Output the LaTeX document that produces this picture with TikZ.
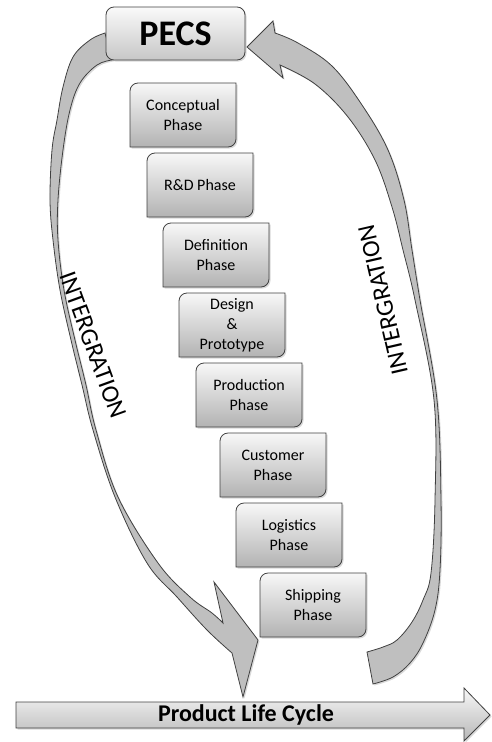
\documentclass[tikz,border=0pt]{standalone}
\usepackage{fontspec}
\setmainfont{Carlito}
\usetikzlibrary{shadows}

\tikzset{
  shade/.style={drop shadow={shadow xshift=1.5pt, shadow yshift=-1.5pt, opacity=0.3}},
  phasebox/.style={draw=black!75, line width=0.8pt, top color=black!3, bottom color=black!30, shade},
  phase/.style={align=center, inner sep=0pt, font=\fontsize{16}{20}\selectfont},
  band/.style={draw=black!75, line width=0.8pt, fill=black!25, shade},
  pecs/.style={draw=black!75, line width=0.8pt, rounded corners=8pt, top color=black!2, bottom color=black!22,
    minimum width=139pt, minimum height=53pt, inner sep=0pt, font=\bfseries\fontsize{36}{40}\selectfont, shade},
  plcarrow/.style={draw=black!75, line width=0.8pt, top color=black!3, bottom color=black!28, shade},
  integ/.style={font=\fontsize{25}{30}\selectfont, inner sep=0pt}
}

\begin{document}
\begin{tikzpicture}[x=1pt, y=-1pt]
\useasboundingbox (0,0) rectangle (491,742);

% left band, PECS down to the life cycle
\coordinate (lb1) at (214,582);
\coordinate (lnotch) at (223,623);
\coordinate (lfoot) at (232,653);
\coordinate (ltip) at (243,697);
\coordinate (lb2) at (258,640);
\path[band] plot[smooth, tension=0.6] coordinates {(105,33) (90,40) (73,57) (63,87) (57,120) (52,150) (50,200) (53,240) (60,290) (71,340) (82,385) (93,430) (115,497) (147,563) (177,597) (207,630) (232,653)}
  -- (ltip) -- (lb2) -- (lb1) -- (lnotch)
  -- plot[smooth, tension=0.6] coordinates {(223,623) (212,613) (190,597) (158,563) (118,497) (96,430) (86,385) (75,340) (64,290) (58,240) (58,200) (63,150) (70,110) (80,83) (97,65) (112,60)}
  -- cycle;

% right band, back up to PECS
\coordinate (rtip) at (247,47);
\coordinate (rb1) at (273,21);
\coordinate (rnup) at (275,33);
\coordinate (rnlo) at (280,65);
\coordinate (rb2) at (283,78);
\path[band] (rtip) -- (rb1) -- (rnup)
  -- plot[smooth, tension=0.6] coordinates {(275,33) (298,43) (332,66) (362,105) (388,150) (404,200) (412,250) (420,300) (437,400) (441,500) (440,570) (435,610) (423,643) (410,663) (393,677) (373,684)}
  -- plot[smooth, tension=0.6] coordinates {(367,652) (383,647) (397,640) (412,622) (423,600) (431,573) (435,500) (434,400) (415,300) (403,250) (392,207) (375,160) (348,117) (315,84) (280,65)}
  -- (rb2) -- cycle;

\node[pecs] (pecs) at (175.5,33.5) {PECS};

% the phases
\foreach \nm/\px/\py/\txt in {concept/130/83/{Conceptual\\Phase}, rnd/147/153/{R\&D Phase},
    define/163/223/{Definition\\Phase}, design/179/293/{Design\\\&\\Prototype},
    product/196/363/{Production\\Phase}, customer/220/433/{Customer\\Phase},
    logistic/236/503/{Logistics\\Phase}, shipping/260/573/{Shipping\\Phase}} {
  \path[phasebox] (\px,\py+64) -- (\px,\py+8) arc[start angle=180, end angle=270, radius=8]
    -- (\px+106,\py) -- (\px+106,\py+56) arc[start angle=0, end angle=90, radius=8] -- cycle;
  \node[phase] (\nm) at (\px+53,\py+32) {\txt};
}

\node[integ, rotate=-70] (intl) at (93,345) {INTERGRATION};
\node[integ, rotate=103] (intr) at (383,300) {INTERGRATION};

% product life cycle
\path[plcarrow] (16,702) -- (464,702) -- (464,688) -- (490,715) -- (464,741) -- (464,728) -- (16,728) -- cycle;
\node[font=\bfseries\fontsize{24}{28}\selectfont, inner sep=0pt] (plc) at (246,715) {Product Life Cycle};
\end{tikzpicture}
\end{document}
